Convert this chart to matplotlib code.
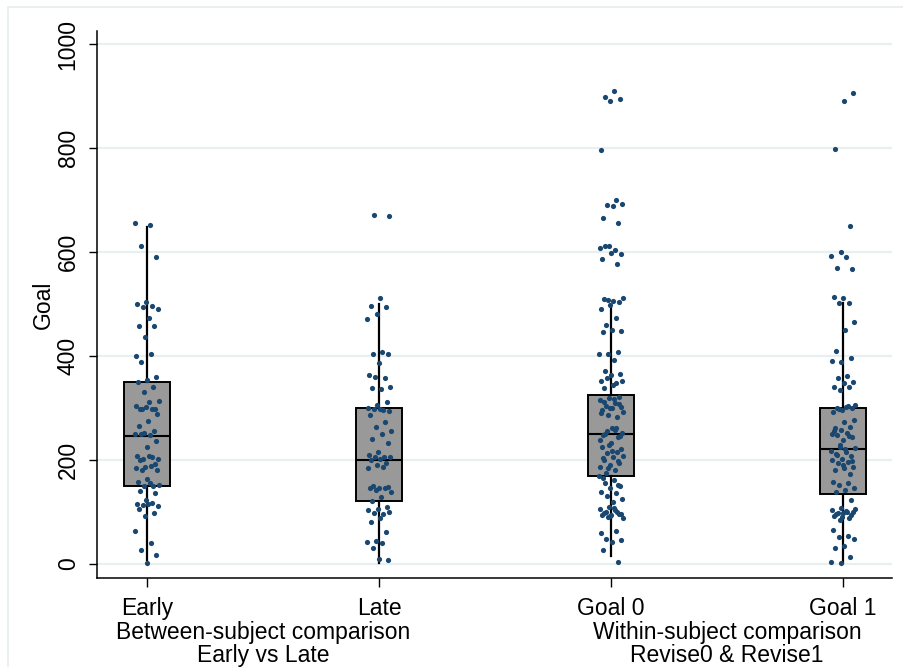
import numpy as np
import matplotlib
matplotlib.use("Agg")
import matplotlib.pyplot as plt
import matplotlib.transforms as mtransforms
from matplotlib.patches import Rectangle

plt.rcParams['font.family'] = ['Liberation Sans', 'DejaVu Sans']

# ---------------- data ----------------
categories = ["Early", "Late", "Goal 0", "Goal 1"]
group_titles = ["Between-subject comparison\nEarly vs Late",
                "Within-subject comparison\nRevise0 & Revise1"]

# box statistics: (whisker low, q1, median, q3, whisker high)
box_lo = [8, 1, 15, 1]
box_q1 = [151, 121, 170, 135]
box_med = [246, 201, 251, 221]
box_q3 = [350, 300, 325, 300]
box_hi = [649, 500, 498, 502]

early_vals = [657, 652, 612, 591, 505, 500, 496, 494, 491, 473, 458, 458, 436,
              400, 404, 389, 360, 354, 350, 340, 330, 314, 311, 299, 298, 303,
              304, 298, 299, 289, 276, 266, 256, 253, 251, 248, 251, 236, 225,
              207, 205, 203, 203, 207, 200, 192, 187, 185, 189, 180, 180, 163,
              158, 151, 151, 152, 155, 140, 136, 123, 115, 117, 113, 112, 115,
              106, 99, 93, 64, 40, 26, 17, 1]

late_vals = [671, 669, 512, 496, 494, 482, 471, 408, 404, 404, 386, 364, 357,
             360, 341, 337, 339, 312, 306, 300, 296, 298, 295, 298, 287, 274,
             264, 256, 251, 240, 232, 215, 210, 206, 205, 205, 203, 200, 194,
             190, 185, 187, 150, 149, 147, 147, 146, 142, 138, 128, 121, 109,
             105, 104, 97, 99, 101, 88, 80, 61, 44, 43, 40, 30, 8, 9]

goal0_vals = [911, 899, 894, 891, 797, 700, 691, 693, 688, 666, 657, 612, 609,
              604, 611, 596, 598, 587, 577, 508, 511, 507, 510, 505, 498, 490,
              473, 460, 449, 450, 447, 407, 405, 404, 392, 371, 366, 364, 352,
              348, 357, 353, 344, 338, 322, 319, 316, 309, 304, 303, 301, 296,
              282, 287, 293, 318, 312, 307, 300, 290, 261, 256, 253, 261, 249,
              245, 229, 239, 258, 250, 247, 232, 226, 216, 213, 208, 206, 201,
              194, 190, 187, 181, 176, 222, 218, 204, 198, 184, 169, 162, 156,
              150, 146, 139, 137, 130, 126, 120, 165, 152, 109, 105, 103, 101,
              97, 94, 94, 101, 91, 88, 107, 99, 96, 92, 59, 64, 49, 46, 43, 26, 4]

goal1_vals = [906, 891, 798, 650, 601, 593, 591, 570, 568, 512, 514, 503, 503,
              466, 450, 409, 396, 389, 391, 362, 357, 351, 348, 340, 340, 335,
              306, 303, 300, 300, 296, 293, 304, 298, 278, 274, 261, 264, 257,
              251, 253, 248, 244, 239, 255, 246, 226, 223, 221, 212, 207, 203,
              200, 197, 194, 187, 184, 181, 174, 229, 218, 215, 210, 199, 191,
              158, 155, 152, 146, 142, 139, 123, 107, 104, 101, 99, 101, 98, 92,
              88, 85, 106, 102, 96, 94, 90, 65, 54, 51, 48, 35, 30, 14, 1, 3]

point_groups = [early_vals, late_vals, goal0_vals, goal1_vals]

# ---------------- figure ----------------
W, H = 904, 667
fig = plt.figure(figsize=(W / 100, H / 100), dpi=100)
fig.patch.set_facecolor("white")

# outer light frame (graph region border)
fig.patches.append(Rectangle((8 / W, -0.1), 1.2, 1 - 7 / H + 0.1,
                             transform=fig.transFigure, fill=False,
                             edgecolor="#E6EEF0", linewidth=1.2, zorder=0))

ax = fig.add_axes([97 / W, 1 - 578 / H, (892 - 97) / W, (578 - 31) / H])
ax.set_facecolor("white")

positions = np.arange(1, len(categories) + 1)

# grid
yticks = [0, 200, 400, 600, 800, 1000]
for yt in yticks:
    ax.axhline(yt, color="#E8EFF1", linewidth=1.6, zorder=0.5)

stats = []
for i in range(len(categories)):
    stats.append(dict(whislo=box_lo[i], q1=box_q1[i], med=box_med[i],
                      q3=box_q3[i], whishi=box_hi[i], fliers=[]))

ax.bxp(stats, positions=positions, widths=0.198, showcaps=False,
       showfliers=False, patch_artist=True,
       boxprops=dict(facecolor="#999999", edgecolor="black", linewidth=1.4),
       medianprops=dict(color="black", linewidth=1.5),
       whiskerprops=dict(color="black", linewidth=1.6),
       zorder=2)

# jittered points (deterministic spread)
for i, vals in enumerate(point_groups):
    n = len(vals)
    k = np.arange(n)
    dx = ((k * 0.6180339887 + 0.31 * i) % 1.0 - 0.5) * 0.105
    ax.scatter(positions[i] + dx, vals, s=14, color="#1A476F",
               linewidths=0, zorder=3)

ax.set_xlim(1 - 50 / 232, 4 + 49 / 232)
ax.set_ylim((564 - 578) / 0.5197, (564 - 31) / 0.5197)

for s in ["top", "right"]:
    ax.spines[s].set_visible(False)
for s in ["left", "bottom"]:
    ax.spines[s].set_linewidth(1.1)
    ax.spines[s].set_color("black")

FS = 16.5
ax.set_yticks(yticks)
ax.set_yticklabels([str(v) for v in yticks], rotation=90, va="center",
                   fontsize=FS)
ax.set_xticks(positions)
ax.set_xticklabels(categories, fontsize=FS)
ax.tick_params(axis="y", length=6, width=1.0, pad=6.5)
ax.tick_params(axis="x", length=6.5, width=1.0, pad=7)

ax.set_ylabel("Goal", fontsize=FS)
ax.yaxis.set_label_coords((55 - 97) / (892 - 97), 0.5)

trans = mtransforms.blended_transform_factory(ax.transData, fig.transFigure)
for j, title in enumerate(group_titles):
    xc = (positions[2 * j] + positions[2 * j + 1]) / 2
    ax.text(xc, 1 - 621 / H, title, transform=trans, ha="center", va="top",
            fontsize=FS, linespacing=1.0)

fig.savefig("out.png", dpi=100)
